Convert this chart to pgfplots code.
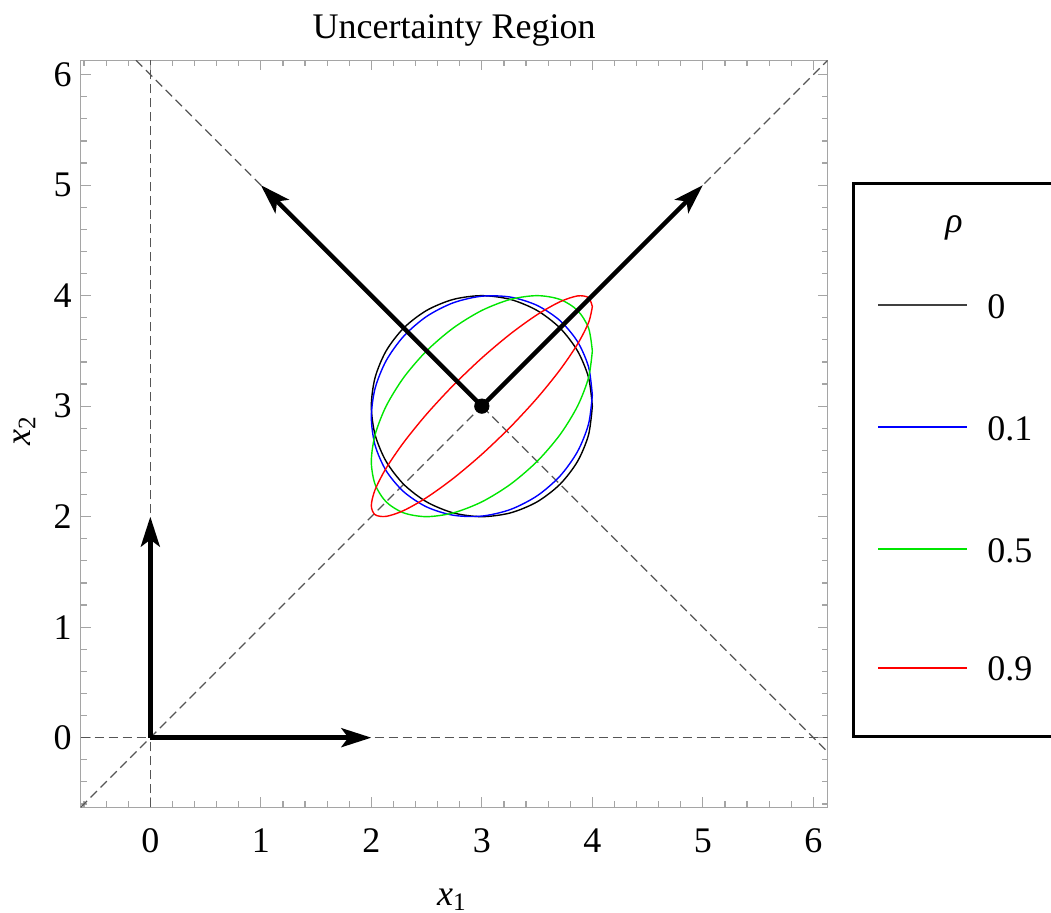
\documentclass[border=0pt]{standalone}
\usepackage{fontspec}
\setmainfont{Liberation Serif}
\usepackage{pgfplots}
\pgfplotsset{compat=1.18}
\usetikzlibrary{arrows.meta}
\definecolor{framegray}{RGB}{165,165,165}
\definecolor{dashgray}{RGB}{85,85,85}
\definecolor{mblue}{RGB}{0,0,255}
\definecolor{mgreen}{RGB}{0,230,0}
\definecolor{mred}{RGB}{255,0,0}
\begin{document}
\begin{tikzpicture}[font=\fontsize{18}{21}\selectfont]
\begin{axis}[
  at={(0pt,0pt)}, anchor=south west,
  scale only axis, width=373.5pt, height=373.5pt,
  xmin=-0.63, xmax=6.13, ymin=-0.63, ymax=6.13,
  xtick={0,1,2,3,4,5,6}, ytick={0,1,2,3,4,5,6},
  minor xtick={-0.6,-0.4,-0.2,0.2,0.4,0.6,0.8,1.2,1.4,1.6,1.8,2.2,2.4,2.6,2.8,3.2,3.4,3.6,3.8,4.2,4.4,4.6,4.8,5.2,5.4,5.6,5.8},
  minor ytick={-0.6,-0.4,-0.2,0.2,0.4,0.6,0.8,1.2,1.4,1.6,1.8,2.2,2.4,2.6,2.8,3.2,3.4,3.6,3.8,4.2,4.4,4.6,4.8,5.2,5.4,5.6,5.8},
  tick align=inside,
  major tick length=5pt, minor tick length=3pt,
  axis line style={framegray, line width=0.6pt},
  every tick/.style={framegray, line width=0.6pt},
  /pgf/number format/assume math mode=true,
  xticklabel style={inner sep=0pt, yshift=-10.5pt},
  yticklabel style={inner sep=0pt, xshift=-4.3pt},
  title={Uncertainty Region},
  title style={at={(axis description cs:0.5,1.0135)}, anchor=base, inner sep=0pt, yshift=0pt},
  xlabel={\textit{x}\textsubscript{1}},
  xlabel style={at={(axis description cs:0.497,-0.131)}, anchor=base, inner sep=0pt, yshift=0pt},
  ylabel={\textit{x}\textsubscript{2}},
  ylabel style={at={(axis description cs:-0.0675,0.5037)}, anchor=base, inner sep=0pt, xshift=0pt, yshift=0pt},
  no marks,
]
% dashed guide lines
\addplot[dashgray, line width=0.6pt, dash pattern=on 4.5pt off 2.5pt] coordinates {(0,-0.63) (0,6.13)};
\addplot[dashgray, line width=0.6pt, dash pattern=on 4.5pt off 2.5pt] coordinates {(-0.63,0) (6.13,0)};
\addplot[dashgray, line width=0.6pt, dash pattern=on 4.5pt off 2.5pt] coordinates {(-0.63,-0.63) (6.13,6.13)};
\addplot[dashgray, line width=0.6pt, dash pattern=on 4.5pt off 2.5pt] coordinates {(-0.13,6.13) (6.13,-0.13)};
% rho = 0
\addplot[black, line width=0.7pt, smooth] coordinates {
(4,3) (3.9659,3.2588) (3.8660,3.5) (3.7071,3.7071) (3.5,3.8660) (3.2588,3.9659)
(3,4) (2.7412,3.9659) (2.5,3.8660) (2.2929,3.7071) (2.1340,3.5) (2.0341,3.2588)
(2,3) (2.0341,2.7412) (2.1340,2.5) (2.2929,2.2929) (2.5,2.1340) (2.7412,2.0341)
(3,2) (3.2588,2.0341) (3.5,2.1340) (3.7071,2.2929) (3.8660,2.5) (3.9659,2.7412) (4,3)};
% rho = 0.1
\addplot[mblue, line width=0.7pt, smooth] coordinates {
(4,3.1) (3.9659,3.3541) (3.8660,3.5841) (3.7071,3.7743) (3.5,3.9117) (3.2588,3.9870)
(3,3.995) (2.7412,3.9352) (2.5,3.8117) (2.2929,3.6329) (2.1340,3.4109) (2.0341,3.1609)
(2,2.9) (2.0341,2.6459) (2.1340,2.4159) (2.2929,2.2257) (2.5,2.0883) (2.7412,2.0130)
(3,2.005) (3.2588,2.0648) (3.5,2.1883) (3.7071,2.3672) (3.8660,2.5891) (3.9659,2.8391) (4,3.1)};
% rho = 0.5
\addplot[mgreen, line width=0.7pt, smooth] coordinates {
(4,3.5) (3.9659,3.7071) (3.8660,3.8660) (3.7071,3.9659) (3.5,4.0) (3.2588,3.9659)
(3,3.8660) (2.7412,3.7071) (2.5,3.5) (2.2929,3.2588) (2.1340,3.0) (2.0341,2.7412)
(2,2.5) (2.0341,2.2929) (2.1340,2.1340) (2.2929,2.0341) (2.5,2.0) (2.7412,2.0341)
(3,2.1340) (3.2588,2.2929) (3.5,2.5) (3.7071,2.7412) (3.8660,3.0) (3.9659,3.2588) (4,3.5)};
% rho = 0.9
\addplot[mred, line width=0.7pt, smooth] coordinates {
(4,3.9) (3.9659,3.9821) (3.8660,3.9974) (3.7071,3.9446) (3.5,3.8275) (3.2588,3.6540)
(3,3.4359) (2.7412,3.1881) (2.5,2.9275) (2.2929,2.6718) (2.1340,2.4386) (2.0341,2.2435)
(2,2.1) (2.0341,2.0179) (2.1340,2.0026) (2.2929,2.0554) (2.5,2.1725) (2.7412,2.3460)
(3,2.5641) (3.2588,2.8119) (3.5,3.0725) (3.7071,3.3282) (3.8660,3.5615) (3.9659,3.7565) (4,3.9)};
% arrows
\addplot[black, line width=2.2pt, -{Stealth[length=15pt,width=9.5pt,inset=3.5pt]}] coordinates {(0,0) (2,0)};
\addplot[black, line width=2.2pt, -{Stealth[length=15pt,width=9.5pt,inset=3.5pt]}] coordinates {(0,0) (0,2)};
\addplot[black, line width=2.2pt, -{Stealth[length=15pt,width=9.5pt,inset=3.5pt]}] coordinates {(3,3) (1,5)};
\addplot[black, line width=2.2pt, -{Stealth[length=15pt,width=9.5pt,inset=3.5pt]}] coordinates {(3,3) (5,5)};
% centre point
\addplot[only marks, mark=*, mark size=3.6pt, black] coordinates {(3,3)};
\end{axis}
% legend (box cut by the right edge, as in the reference)
\draw[line width=1.5pt] (520pt,311.65pt) -- (386.15pt,311.65pt) -- (386.15pt,35.15pt) -- (520pt,35.15pt);
\node[anchor=base, inner sep=0pt] at (436.65pt,287.15pt) {\textit{ρ}};
\draw[black!75, line width=0.75pt] (398.65pt,251.15pt) -- (443.15pt,251.15pt);
\node[anchor=west, inner sep=0pt] at (453.15pt,250.4pt) {0};
\draw[mblue, line width=0.75pt] (398.65pt,190.15pt) -- (443.15pt,190.15pt);
\node[anchor=west, inner sep=0pt] at (453.15pt,189.4pt) {0.1};
\draw[mgreen, line width=0.75pt] (398.65pt,129.15pt) -- (443.15pt,129.15pt);
\node[anchor=west, inner sep=0pt] at (453.15pt,128.4pt) {0.5};
\draw[mred, line width=0.75pt] (398.65pt,69.65pt) -- (443.15pt,69.65pt);
\node[anchor=west, inner sep=0pt] at (453.15pt,69.4pt) {0.9};
\pgfresetboundingbox
\path[use as bounding box] (-40.35pt,-52.85pt) rectangle (485.15pt,403.65pt);
\end{tikzpicture}
\end{document}
